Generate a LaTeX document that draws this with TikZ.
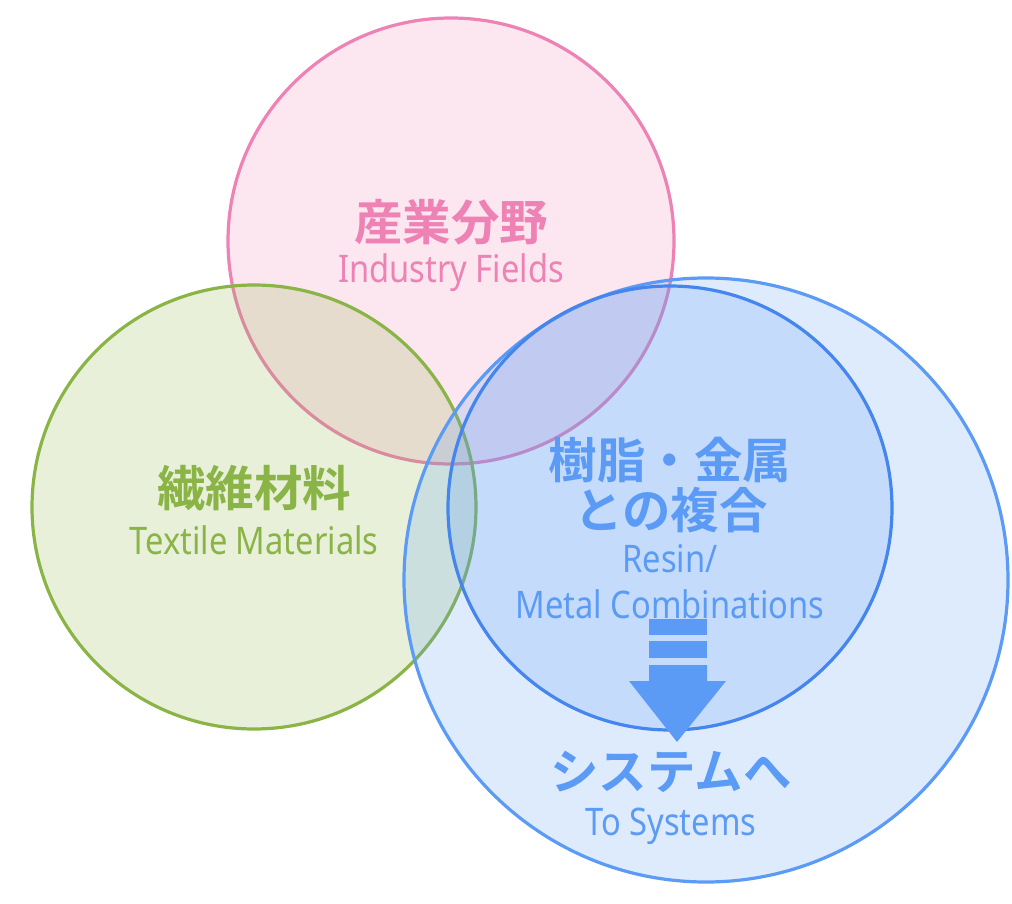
\documentclass[tikz,border=0pt]{standalone}
\usepackage{fontspec}
\setmainfont[FakeStretch=0.86]{Noto Sans}
\newfontfamily\jpfont{Noto Sans CJK JP}[BoldFont={Noto Sans CJK JP Bold}]
\definecolor{pinkc}{HTML}{EE82B4}
\definecolor{greenc}{HTML}{8AB446}
\definecolor{bluec}{HTML}{5B9BF5}
\definecolor{blueline}{HTML}{4585EE}
\tikzset{
  field/.style={line width=3.2pt, fill opacity=0.2},
  jp/.style={font=\jpfont\bfseries\fontsize{48.5}{50}\selectfont, inner sep=0pt},
  en/.style={font=\fontsize{38}{40}\selectfont, inner sep=0pt}
}
\begin{document}
\begin{tikzpicture}[x=1pt,y=-1pt]
	\useasboundingbox (0,0) rectangle (1012,904);
	% circles
	\draw [field, draw=pinkc, fill=pinkc] (451,241) circle (223);
	\draw [field, draw=greenc, fill=greenc] (254,507) circle (222);
	\draw [field, draw=bluec, fill=bluec] (706,580) circle (302);
	\draw [field, draw=blueline, fill=bluec] (670,508) circle (222);
	% labels
	\node [jp, text=pinkc] (ind) at (451,222) {産業分野};
	\node [en, text=pinkc] (indEn) at (451,273) {Industry Fields};
	\node [jp, text=greenc] (tex) at (254,488) {繊維材料};
	\node [en, text=greenc] (texEn) at (254,540) {Textile Materials};
	\node [jp, text=bluec] (res) at (670,460) {樹脂・金属};
	\node [jp, text=bluec] (res2) at (671,510) {との複合};
	\node [en, text=bluec] (resEn) at (670,559) {Resin/};
	\node [en, text=bluec] (resEn2) at (670,604) {Metal Combinations};
	\node [jp, text=bluec] (sys) at (671,772) {システムへ};
	\node [en, text=bluec] (sysEn) at (671,826) {To Systems};
	% arrow
	\fill [bluec] (649,619) rectangle (707,635);
	\fill [bluec] (649,641) rectangle (707,658);
	\fill [bluec] (649,665) -- (707,665) -- (707,681) -- (726,681) -- (677,742)
		-- (629,681) -- (649,681) -- cycle;
\end{tikzpicture}
\end{document}
